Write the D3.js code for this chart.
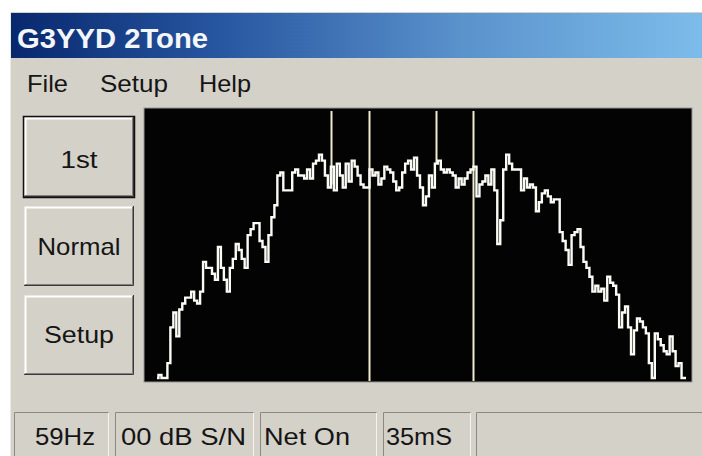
<!DOCTYPE html>
<html>
<head>
<meta charset="utf-8">
<script src="https://cdnjs.cloudflare.com/ajax/libs/d3/7.8.5/d3.min.js"></script>
<style>
	body { margin:0; background:#fff; }
	svg { display:block; font-family:'Liberation Sans', Arial, sans-serif; }
</style>
</head>
<body>
<svg class="app" width="702" height="456"></svg>
<script>

// spectrum level per FFT bin (dB above noise floor)
var levels = [1,2,1,1,6,18,23,15,24,26,28,28,30,27,26,30,40,38,38,36,34,45,38,34,30,38,41,46,44,41,
	38,49,51,53,53,47,45,40,49,55,59,69,70,64,64,64,70,71,69,69,68,71,68,73,74,76,74,69,65,72,
	64,73,69,65,73,67,74,72,69,66,65,65,71,69,70,66,68,72,71,70,67,64,65,70,73,74,71,75,69,65,
	59,62,69,65,73,74,71,70,71,70,69,65,68,66,68,70,71,72,62,66,67,69,66,71,64,46,54,71,76,73,
	71,71,71,64,68,65,66,65,57,60,63,64,62,60,61,61,50,47,44,39,49,50,51,45,40,38,35,30,32,30,
	31,27,35,33,32,29,18,23,25,18,9,17,21,20,18,16,6,1,16,14,12,10,9,15,10,5,6,1,1];
var binStart = 100;   // Hz
var binWidth = 15;    // Hz
var dbRange = [0, 91];

// tone / cursor markers: frequency and the level the marker stops at (0 = full height)
var markerFreqs = [980, 1170, 1510, 1695];
var markerStops = [66, 0, 73, 0];

var menuItems = ['File', 'Setup', 'Help'];
var buttonLabels = ['1st', 'Normal', 'Setup'];
var statusTexts = ['59Hz', '00 dB S/N', 'Net On', '35mS', ''];

var config = {
	face:'#d4d1c9',
	plot:{x:144, y:108, w:548, h:274},
	font:'Liberation Sans'
};

var svg = d3.select('.app');

//window background
svg.append('rect')
	.attr('x',10).attr('y',12)
	.attr('width',692).attr('height',444)
	.attr('fill',config.face);
svg.append('line')
	.attr('x1',10.5).attr('x2',10.5).attr('y1',12).attr('y2',456)
	.attr('stroke','#ecebe6');

//title bar
var grad = svg.append('defs').append('linearGradient')
	.attr('id','tbar');
grad.append('stop').attr('offset','0%').attr('stop-color','#08286e');
grad.append('stop').attr('offset','30%').attr('stop-color','#2756a0');
grad.append('stop').attr('offset','65%').attr('stop-color','#5a92cc');
grad.append('stop').attr('offset','100%').attr('stop-color','#7cbcea');

svg.append('rect')
	.attr('x',11).attr('y',13)
	.attr('width',691).attr('height',45)
	.attr('fill','url(#tbar)');

svg.append('text')
	.text('G3YYD 2Tone')
	.attr('x',17).attr('y',48)
	.attr('font-size',28)
	.attr('font-weight','bold')
	.attr('fill','#f4f6fa')
	.attr('textLength',191)
	.attr('lengthAdjust','spacingAndGlyphs');

//menu
var menuX = [27, 100, 199];
var menuW = [41, 68, 52];
svg.selectAll('.menu')
	.data(menuItems)
	.enter()
	.append('text')
	.attr('class','menu')
	.text(d => d)
	.attr('x',(d,i) => menuX[i])
	.attr('y',92)
	.attr('font-size',24)
	.attr('fill','#151515')
	.attr('textLength',(d,i) => menuW[i])
	.attr('lengthAdjust','spacingAndGlyphs');

//buttons
var btnTop = [117, 206, 295];
var btnTextW = [37, 83, 70];
var btns = svg.selectAll('.btn')
	.data(buttonLabels)
	.enter()
	.append('g')
	.attr('class','btn')
	.attr('transform',(d,i) => 'translate(24,'+btnTop[i]+')');

btns.append('rect')
	.attr('width',110).attr('height',80)
	.attr('fill',config.face);
// 3d edges
btns.append('path')
	.attr('d','M1.5,78 V1.5 H108')
	.attr('fill','none').attr('stroke','#fff').attr('stroke-width',2);
btns.append('path')
	.attr('d','M1,78.5 H108.5 V1')
	.attr('fill','none').attr('stroke','#808080').attr('stroke-width',1);
btns.append('path')
	.attr('d','M0,79.5 H109.5 V0')
	.attr('fill','none').attr('stroke','#3a3a3a').attr('stroke-width',1);
btns.filter((d,i) => i == 0)
	.append('rect')
	.attr('x',-0.5).attr('y',-0.5)
	.attr('width',111).attr('height',81)
	.attr('fill','none').attr('stroke','#111').attr('stroke-width',1.5);

btns.append('text')
	.text(d => d)
	.attr('x',55)
	.attr('y',(d,i) => [51, 49, 48][i])
	.attr('text-anchor','middle')
	.attr('font-size',24)
	.attr('fill','#151515')
	.attr('textLength',(d,i) => btnTextW[i])
	.attr('lengthAdjust','spacingAndGlyphs');

//spectrum display
var p = config.plot;
svg.append('rect')
	.attr('x',p.x).attr('y',p.y)
	.attr('width',p.w).attr('height',p.h)
	.attr('fill','#030303')
	.attr('stroke','#9a9893');

var xScale = d3.scaleLinear()
	.domain([binStart, binStart + binWidth*(levels.length-1)])
	.range([157, 686]);

var yScale = d3.scaleLinear()
	.domain(dbRange)
	.range([p.y+p.h-1, p.y+2]);

var chart = svg.append('g');

chart.selectAll('.marker')
	.data(markerFreqs)
	.enter()
	.append('line')
	.attr('class','marker')
	.attr('x1',d => Math.round(xScale(d))+0.5)
	.attr('x2',d => Math.round(xScale(d))+0.5)
	.attr('y1',p.y+3)
	.attr('y2',(d,i) => yScale(markerStops[i]))
	.attr('stroke','#eeeccf')
	.attr('stroke-width',2);

var lineGen = d3.line()
	.x((d,i) => xScale(binStart + i*binWidth))
	.y(d => yScale(d))
	.curve(d3.curveStep);

chart.append('path')
	.datum(levels)
	.attr('d',lineGen)
	.attr('fill','none')
	.attr('stroke','#fbfbf6')
	.attr('stroke-width',2.4);

//status bar
var panelX = [14, 115, 260, 383, 476];
var panelW = [95, 139, 117, 88, 230];
var textX = [35, 121, 264, 386, 0];
var textW = [60, 125, 86, 66, 0];

var panels = svg.selectAll('.panel')
	.data(statusTexts)
	.enter()
	.append('g')
	.attr('class','panel')
	.attr('transform',(d,i) => 'translate('+panelX[i]+',412)');

panels.append('path')
	.attr('d',(d,i) => 'M0.5,44 V0.5 H'+(panelW[i]-0.5))
	.attr('fill','none').attr('stroke','#8a8882');
panels.append('path')
	.attr('d',(d,i) => 'M'+(panelW[i]-0.5)+',1 V44')
	.attr('fill','none').attr('stroke','#f4f3ef');

panels.filter(d => d != '')
	.append('text')
	.text(d => d)
	.attr('x',(d,i) => textX[i]-panelX[i])
	.attr('y',33)
	.attr('font-size',24)
	.attr('fill','#151515')
	.attr('textLength',(d,i) => textW[i])
	.attr('lengthAdjust','spacingAndGlyphs');

</script>
</body>
</html>
